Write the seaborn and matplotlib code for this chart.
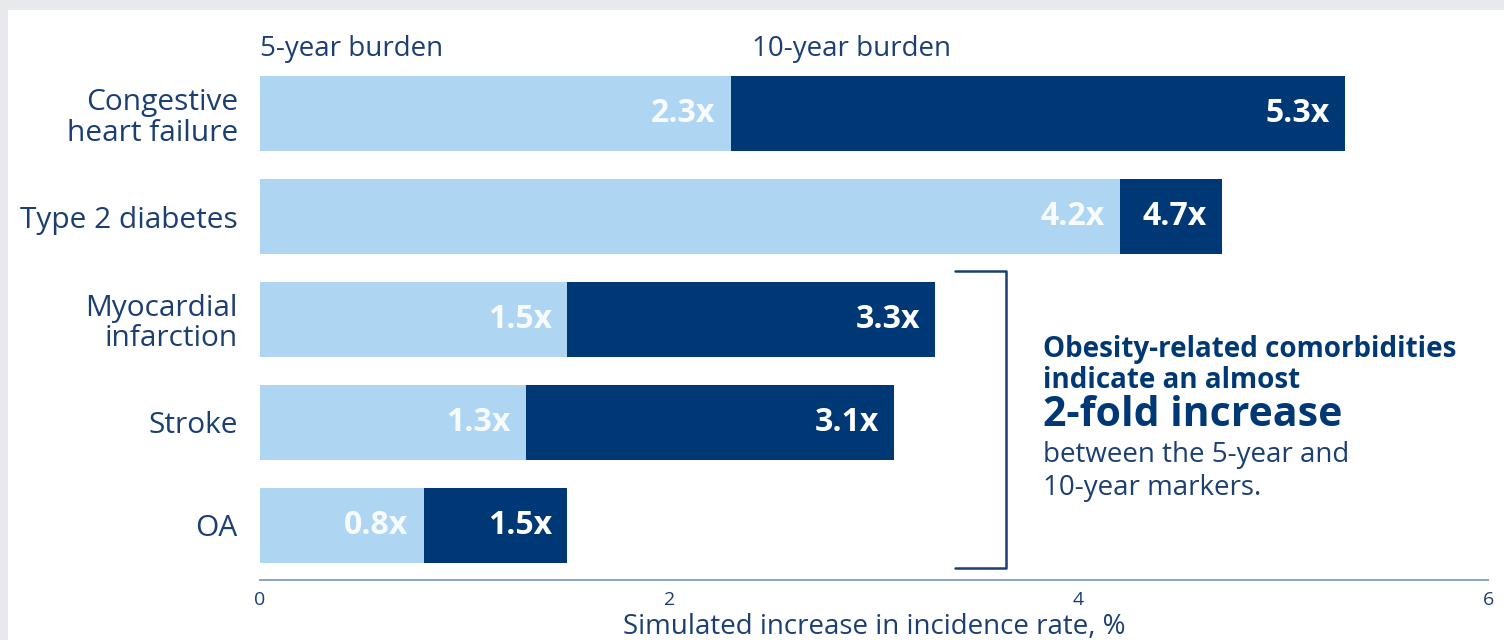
import matplotlib
matplotlib.use("Agg")
import matplotlib.pyplot as plt
import seaborn as sns
import pandas as pd

# Data
conditions = ["Congestive\nheart failure", "Type 2 diabetes", "Myocardial\ninfarction", "Stroke", "OA"]
burden_5yr = [2.3, 4.2, 1.5, 1.3, 0.8]
burden_10yr = [5.3, 4.7, 3.3, 3.1, 1.5]
x_ticks = [0, 2, 4, 6]

LIGHT = "#aed5f2"
DARK = "#003876"
NAVY_TEXT = "#1b3f72"
AXIS_COL = "#8ea5c6"
BG = "#e8e9ec"

sns.set_theme(style="white")
plt.rcParams["font.family"] = ["Open Sans", "DejaVu Sans"]

df = pd.DataFrame({"condition": conditions, "five": burden_5yr, "ten": burden_10yr})

fig = plt.figure(figsize=(15.04, 6.4), dpi=100, facecolor=BG)
W, H = 1504, 640
# white panel
fig.patches.append(plt.Rectangle((8 / W, 0), 1 - 8 / W, 1 - 10 / H,
                                 transform=fig.transFigure, facecolor="white",
                                 edgecolor="none", zorder=-5))

ax_left, ax_right = 260 / W, 1488 / W
ax_bottom, ax_top = 1 - 580 / H, 1 - 40 / H
ax = fig.add_axes([ax_left, ax_bottom, ax_right - ax_left, ax_top - ax_bottom])
ax.set_facecolor("none")

# 10-year bar behind, 5-year bar in front
sns.barplot(data=df, x="ten", y="condition", color=DARK, width=0.73,
            saturation=1, ax=ax, orient="h", linewidth=0)
sns.barplot(data=df, x="five", y="condition", color=LIGHT, width=0.73,
            saturation=1, ax=ax, orient="h", linewidth=0)

ax.set_xlim(0, 6)
ax.set_ylim(4.535, -0.72)

for i, (a, b) in enumerate(zip(burden_5yr, burden_10yr)):
    ax.annotate(f"{a}x", (a, i), xytext=(-11, 0), textcoords="offset points",
                ha="right", va="center", color="white", fontsize=23,
                fontweight="bold", alpha=0.92)
    ax.annotate(f"{b}x", (b, i), xytext=(-11, 0), textcoords="offset points",
                ha="right", va="center", color="white", fontsize=23,
                fontweight="bold")

# series headers
ax.text(0, -0.63, "5-year burden", ha="left", va="center", color=NAVY_TEXT,
        fontsize=20)
ax.annotate("10-year burden", (2.3, -0.63), xytext=(15, 0), textcoords="offset points",
            ha="left", va="center", color=NAVY_TEXT, fontsize=20)

# axes styling
for s in ["top", "right", "left"]:
    ax.spines[s].set_visible(False)
ax.spines["bottom"].set_color(AXIS_COL)
ax.spines["bottom"].set_linewidth(1.5)
ax.set_xticks(x_ticks)
ax.set_xticklabels([str(t) for t in x_ticks])
ax.tick_params(axis="x", length=0, pad=8, labelsize=14, labelcolor=NAVY_TEXT)
ax.tick_params(axis="y", length=0, pad=16, labelsize=21.5, labelcolor=NAVY_TEXT)
for lbl in ax.get_yticklabels():
    lbl.set_horizontalalignment("right")
    lbl.set_linespacing(1.05)
ax.set_ylabel("")
ax.set_xlabel("Simulated increase in incidence rate, %", fontsize=20,
              color=NAVY_TEXT, labelpad=3)

# bracket grouping the last three conditions
bx0, bx1 = 955, 1006
by0, by1 = 271, 568
def fx(px):
    return px / W
def fy(py):
    return 1 - py / H
fig.add_artist(plt.Line2D([fx(bx0), fx(bx1), fx(bx1), fx(bx0)],
                          [fy(by0), fy(by0), fy(by1), fy(by1)],
                          color=NAVY_TEXT, lw=1.8, transform=fig.transFigure))

tx = fx(1043)
fig.text(tx, fy(349), "Obesity-related comorbidities", ha="left", va="center",
         color=DARK, fontsize=20, fontweight="bold")
fig.text(tx, fy(380), "indicate an almost", ha="left", va="center",
         color=DARK, fontsize=20, fontweight="bold")
fig.text(tx, fy(416), "2-fold increase", ha="left", va="center",
         color=DARK, fontsize=29.5, fontweight="bold")
fig.text(tx, fy(455), "between the 5-year and", ha="left", va="center",
         color=NAVY_TEXT, fontsize=20)
fig.text(tx, fy(488), "10-year markers.", ha="left", va="center",
         color=NAVY_TEXT, fontsize=20)

fig.savefig("out.png", dpi=100, facecolor=BG)
